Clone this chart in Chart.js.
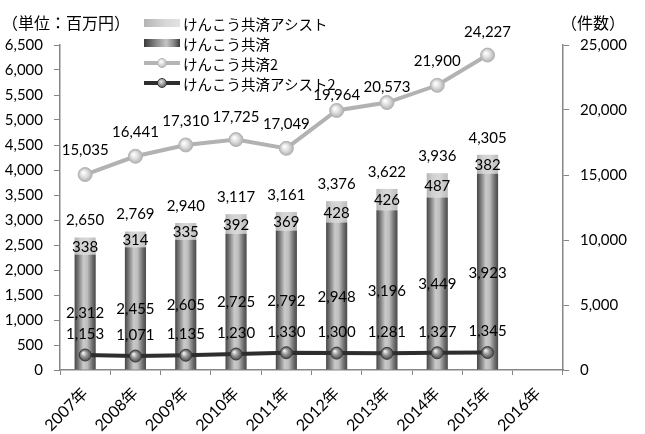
<!DOCTYPE html>
<html><head><meta charset="utf-8">
<script src="https://cdn.jsdelivr.net/npm/chart.js@4/dist/chart.umd.min.js"></script>
<style>
html,body{margin:0;padding:0;background:#fff;}
#wrap{position:relative;width:645px;height:434px;overflow:hidden;}
#c{position:absolute;left:0;top:0;}
.t{position:absolute;font-family:'Noto Sans CJK JP';font-size:16px;color:#000;line-height:1;white-space:nowrap;}
#legend{position:absolute;left:144px;top:13px;font-family:'Noto Sans CJK JP';font-size:14.5px;color:#000;}
.row{height:20px;display:flex;align-items:center;}
.sym{width:36px;height:20px;position:relative;margin-right:3px;}
.rect{position:absolute;left:0;top:6px;width:36px;height:8px;}
.ln{position:absolute;left:0;top:8px;width:36px;height:4px;}
.dot{position:absolute;left:13px;top:5px;width:10px;height:10px;border-radius:50%;box-sizing:border-box;}
</style>
</head><body>
<div id="wrap">
<canvas id="c" width="645" height="434"></canvas>
<div class="t" style="left:2px;top:14px;">（単位：百万円）</div>
<div class="t" style="left:561px;top:14px;">（件数）</div>
<div id="legend">
 <div class="row"><div class="sym"><div class="rect" style="background:linear-gradient(to right,#b4b4b4,#d8d8d8 60%,#e2e2e2);"></div></div><span>けんこう共済アシスト</span></div>
 <div class="row"><div class="sym"><div class="rect" style="background:linear-gradient(to right,#3a3a3a,#8c8c8c 35%,#c4c4c4 62%,#8a8a8a 82%,#3a3a3a);"></div></div><span>けんこう共済</span></div>
 <div class="row"><div class="sym"><div class="ln" style="background:#b4b4b4;"></div><div class="dot" style="background:radial-gradient(circle at 40% 35%,#ffffff,#d0d0d0 55%,#a8a8a8);border:1px solid #b0b0b0;"></div></div><span>けんこう共済2</span></div>
 <div class="row"><div class="sym"><div class="ln" style="background:#2e2e2e;"></div><div class="dot" style="background:radial-gradient(circle at 40% 35%,#e8e8e8,#8a8a8a 55%,#4a4a4a);border:1px solid #333;"></div></div><span>けんこう共済アシスト2</span></div>
</div>
</div>
<script>
const labels = ['2007年','2008年','2009年','2010年','2011年','2012年','2013年','2014年','2015年','2016年'];
const kyosai = [2312,2455,2605,2725,2792,2948,3196,3449,3923,null];
const assist = [338,314,335,392,369,428,426,487,382,null];
const totals = [2650,2769,2940,3117,3161,3376,3622,3936,4305,null];
const kyosaiCount = [15035,16441,17310,17725,17049,19964,20573,21900,24227,null];
const assistCount = [1153,1071,1135,1230,1330,1300,1281,1327,1345,null];
const leftTicks = {min:0,max:6500,step:500};
const rightTicks = {min:0,max:25000,step:5000};

const BAR_PCT = 0.42;
const FONT = "Lato, 'Noto Sans CJK JP', sans-serif";
// label offsets (style): distance of value label above line points
const kcLabelLift = [24,24,24,22,24,15,15,24,23,24];

function barGrad(stops, fallback){
  return (ctx)=>{
    const chart = ctx.chart; const xs = chart.scales && chart.scales.x;
    if(ctx.type!=='data' || !xs) return fallback;
    const cx = xs.getPixelForValue(ctx.dataIndex);
    const w = xs.width/labels.length*BAR_PCT;
    if(!isFinite(cx) || !isFinite(w) || w<=0) return fallback;
    const g = chart.ctx.createLinearGradient(cx-w/2,0,cx+w/2,0);
    stops.forEach(s=>g.addColorStop(s[0],s[1]));
    return g;
  };
}
function ptGrad(stops, axis, data, r, fallback){
  return (ctx)=>{
    const chart = ctx.chart; const xs = chart.scales && chart.scales.x; const ys = chart.scales && chart.scales[axis];
    if(ctx.type!=='data' || !xs || !ys || data[ctx.dataIndex]==null) return fallback;
    const cx = xs.getPixelForValue(ctx.dataIndex);
    const cy = ys.getPixelForValue(data[ctx.dataIndex]);
    if(!isFinite(cx) || !isFinite(cy)) return fallback;
    const g = chart.ctx.createRadialGradient(cx-2,cy-2,0.5,cx,cy,r);
    stops.forEach(s=>g.addColorStop(s[0],s[1]));
    return g;
  };
}

const labelPlugin = {
  id:'vals',
  afterDatasetsDraw(chart){
    const c = chart.ctx;
    c.save();
    c.font = '15px '+FONT;
    c.fillStyle = '#000';
    c.textAlign = 'center';
    c.textBaseline = 'middle';
    const fmt = v => v.toLocaleString('en-US');
    chart.data.datasets.forEach((ds,di)=>{
      const meta = chart.getDatasetMeta(di);
      meta.data.forEach((el,i)=>{
        const v = ds.data[i];
        if(v==null) return;
        if(ds.type==='bar'){
          c.fillText(fmt(v), el.x, (el.y+el.base)/2+1);
          if(ds.key==='assist' && totals[i]!=null){
            c.fillText(fmt(totals[i]), el.x, el.y-17);
          }
        } else {
          c.fillText(fmt(v), el.x, el.y-(ds.key==='kc'?kcLabelLift[i]:21));
        }
      });
    });
    c.restore();
  }
};

const axisColor = '#868686';
new Chart(document.getElementById('c'),{
  data:{
    labels,
    datasets:[
      {type:'bar',key:'kyosai',label:'けんこう共済',data:kyosai,yAxisID:'y',order:2,
       backgroundColor:barGrad([[0,'#464646'],[0.18,'#7a7a7a'],[0.42,'#cacaca'],[0.6,'#bebebe'],[0.85,'#6c6c6c'],[1,'#484848']],'#888'),
       barPercentage:BAR_PCT,categoryPercentage:1,borderWidth:0},
      {type:'bar',key:'assist',label:'けんこう共済アシスト',data:assist,yAxisID:'y',order:2,
       backgroundColor:barGrad([[0,'#b4b4b4'],[0.3,'#d2d2d2'],[0.6,'#d8d8d8'],[1,'#bcbcbc']],'#cccccc'),
       barPercentage:BAR_PCT,categoryPercentage:1,borderWidth:0},
      {type:'line',key:'kc',label:'けんこう共済2',data:kyosaiCount,yAxisID:'y1',order:1,
       borderColor:'#b2b2b2',borderWidth:4,tension:0,pointRadius:7,pointBorderWidth:1,pointBorderColor:'#b4b4b4',
       pointBackgroundColor:ptGrad([[0,'#ffffff'],[0.5,'#dedede'],[1,'#b0b0b0']],'y1',kyosaiCount,7,'#ddd')},
      {type:'line',key:'ac',label:'けんこう共済アシスト2',data:assistCount,yAxisID:'y1',order:0,
       borderColor:'#2e2e2e',borderWidth:4,tension:0,pointRadius:6,pointBorderWidth:1,pointBorderColor:'#3a3a3a',
       pointBackgroundColor:ptGrad([[0,'#f0f0f0'],[0.45,'#9a9a9a'],[1,'#4a4a4a']],'y1',assistCount,6,'#888')}
    ]
  },
  options:{
    responsive:false,animation:false,locale:'en-US',
    layout:{padding:{top:45,left:0,right:0,bottom:0}},
    plugins:{legend:{display:false},tooltip:{enabled:false},title:{display:false}},
    scales:{
      x:{stacked:true,
         grid:{display:true,drawOnChartArea:false,offset:true,tickLength:5,color:axisColor,lineWidth:1},
         border:{display:true,color:axisColor,width:1.5},
         ticks:{minRotation:45,maxRotation:45,autoSkip:false,color:'#000',font:{family:FONT,size:16},padding:9},
         afterFit(s){s.height=64;}},
      y:{stacked:true,position:'left',min:leftTicks.min,max:leftTicks.max,
         grid:{drawOnChartArea:false,tickLength:6,color:axisColor},
         border:{display:true,color:axisColor,width:1.5},
         ticks:{stepSize:leftTicks.step,color:'#000',font:{family:FONT,size:15},padding:11},
         afterFit(s){s.width=60;}},
      y1:{position:'right',min:rightTicks.min,max:rightTicks.max,
         grid:{drawOnChartArea:false,tickLength:6,color:axisColor},
         border:{display:true,color:axisColor,width:1.5},
         ticks:{stepSize:rightTicks.step,color:'#000',font:{family:FONT,size:15},padding:11},
         afterFit(s){s.width=82;}}
    }
  },
  plugins:[labelPlugin]
});
</script>
</body></html>
